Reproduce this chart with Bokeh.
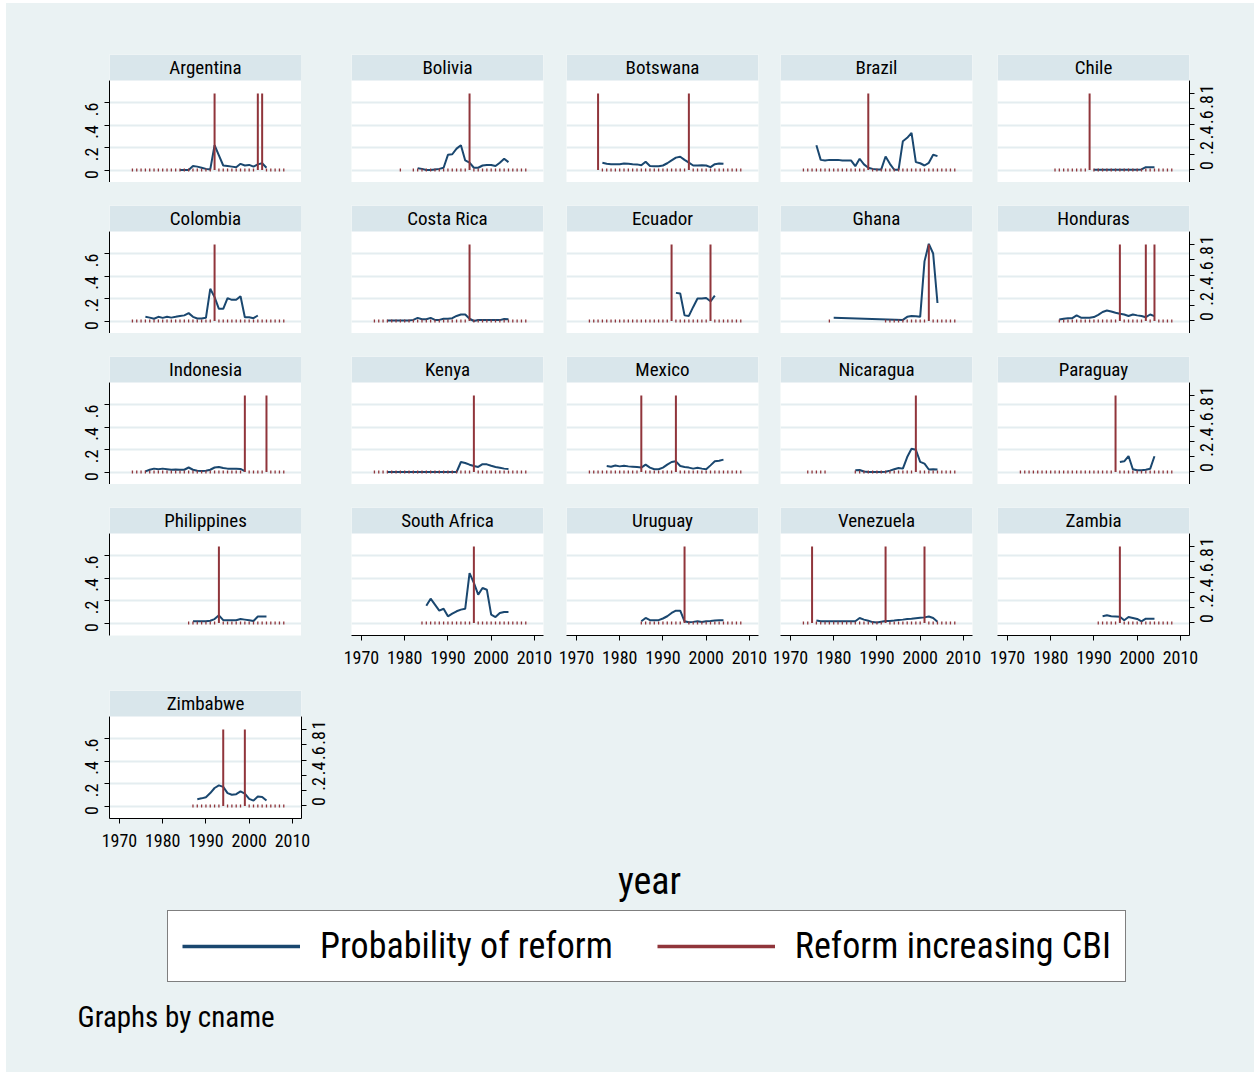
import math

from bokeh.embed import file_html
from bokeh.layouts import column, row
from bokeh.models import (BoxAnnotation, CustomJSTickFormatter, FixedTicker, Grid,
                          Label, Legend, LegendItem, LinearAxis, Range1d)
from bokeh.plotting import figure
from bokeh.resources import INLINE

# ---------------------------------------------------------------- data
countries = ["Argentina", "Bolivia", "Botswana", "Brazil", "Chile",
             "Colombia", "Costa Rica", "Ecuador", "Ghana", "Honduras",
             "Indonesia", "Kenya", "Mexico", "Nicaragua", "Paraguay",
             "Philippines", "South Africa", "Uruguay", "Venezuela", "Zambia",
             "Zimbabwe"]

# first year of the probability series
prob_start = {
    "Argentina": 1984, "Bolivia": 1983, "Botswana": 1976, "Brazil": 1976,
    "Chile": 1990, "Colombia": 1976, "Costa Rica": 1976, "Ecuador": 1993,
    "Ghana": 1980, "Honduras": 1982, "Indonesia": 1976, "Kenya": 1976,
    "Mexico": 1977, "Nicaragua": 1985, "Paraguay": 1996, "Philippines": 1987,
    "South Africa": 1985, "Uruguay": 1985, "Venezuela": 1976, "Zambia": 1992,
    "Zimbabwe": 1988,
}

# predicted probability of reform, one value per year (None = not observed)
prob_values = {
    "Argentina": [0, 0, 0, .035, .03, .02, .01, .005, .22, .13, .04, .035,
                  .03, .025, .055, .04, .045, .03, .05, .06, .02],
    "Bolivia": [.015, .01, 0, 0, .005, .01, .02, .135, .14, .19, .22, .085,
                .065, .02, .02, .04, .045, .045, .035, .065, .1, .07],
    "Botswana": [.064, .055, .052, .052, .052, .058, .055, .052, .05, .042,
                 .074, .036, .034, .034, .04, .06, .085, .11, .118, .09,
                 .065, .04, .04, .042, .04, .026, .052, .058, .055],
    "Brazil": [.22, .09, .085, .09, .09, .09, .085, .085, .085, .034,
               .1, .05, .02, .01, .005, .005, .12, .055, .002, .002,
               .256, .286, .33, .07, .06, .04, .064, .135, .123],
    "Chile": [.002, .002, .002, .002, .002, .002, .002, .002, .002, .002,
              .002, .005, .025, .025, .025],
    "Colombia": [.037, .03, .02, .037, .028, .037, .03, .037, .045, .05,
                 .07, .037, .022, .022, .028, .286, .212, .108, .108, .203,
                 .188, .188, .22, .034, .034, .025, .049],
    "Costa Rica": [.005, .005, .005, .005, .005, .005, .01, .028, .015, .015,
                   .028, .01, .01, .02, .02, .025, .045, .058, .058, .02,
                   0, .008, .008, .008, .008, .008, .008, .018, .015],
    "Ecuador": [.25, .245, .05, .045, .125, .2, .2, .205, .175, .225],
    "Ghana": [.028, None, None, None, None, None, None, None, None, None,
              None, None, None, None, None, None, .01, .037, .044, .042,
              .037, .53, .686, .6, .16],
    "Honduras": [.013, .02, .025, .025, .05, .03, .028, .028, .035, .055,
                 .08, .093, .085, .073, .065, .058, .045, .058, .05, .045,
                 .034, .058, .043],
    "Indonesia": [.006, .02, .03, .025, .03, .025, .02, .022, .02, .02,
                  .04, .02, .012, .01, .012, .02, .04, .045, .035, .03,
                  .028, .028, .027, .008],
    "Kenya": [0, 0, 0, 0, 0, 0, 0, 0, 0, 0, 0, 0, 0, 0, 0, 0, 0,
              .089, .08, .065, .053, .045, .07, .068, .055, .045, .038,
              .03, .027],
    "Mexico": [.053, .047, .058, .05, .055, .05, .047, .044, .039, .065,
               .039, .024, .024, .039, .065, .089, .095, .053, .044, .039,
               .03, .037, .03, .024, .059, .095, .1, .11],
    "Nicaragua": [.015, .018, .005, 0, 0, 0, 0, .002, .012, .024, .036,
                  .03, .133, .207, .198, .09, .074, .022, .024, .022],
    "Paraguay": [.089, .095, .142, .024, .015, .015, .02, .028, .14],
    "Philippines": [.015, .015, .015, .015, .02, .035, .068, .025, .025,
                    .025, .025, .035, .03, .025, .018, .058, .058, .058],
    "South Africa": [.154, .216, .163, .11, .127, .059, .083, .104, .119,
                     .127, .444, .356, .252, .311, .296, .074, .053, .089,
                     .098, .098],
    "Uruguay": [.015, .045, .025, .025, .025, .04, .06, .089, .11, .11,
                .015, .006, .01, .015, .008, .015, .018, .022, .024, .024],
    "Venezuela": [.022, .015, .015, .015, .015, .015, .015, .015, .015, .015,
                  .044, .03, .02, .008, .005, .012, .018, .018, .022, .027,
                  .03, .035, .037, .043, .047, .05, .058, .045, .012],
    "Zambia": [.06, .068, .06, .058, .055, .025, .053, .045, .036, .015,
               .038, .038, .038],
    "Zimbabwe": [.06, .068, .078, .115, .16, .183, .17, .114, .1, .105,
                 .13, .11, .063, .048, .084, .08, .048],
}

# years in which a reform increasing CBI took place
reform_years = {
    "Argentina": [1992, 2002, 2003], "Bolivia": [1995], "Botswana": [1975, 1996],
    "Brazil": [1988], "Chile": [1989], "Colombia": [1992], "Costa Rica": [1995],
    "Ecuador": [1992, 2001], "Ghana": [2002], "Honduras": [1996, 2002, 2004],
    "Indonesia": [1999, 2004], "Kenya": [1996], "Mexico": [1985, 1993],
    "Nicaragua": [1999], "Paraguay": [1995], "Philippines": [1993],
    "South Africa": [1996], "Uruguay": [1995], "Venezuela": [1975, 1992, 2001],
    "Zambia": [1996], "Zimbabwe": [1994, 1999],
}

# year spans in which the reform indicator is observed
reform_observed = {
    "Argentina": [(1973, 2008)], "Bolivia": [(1979, 1979), (1982, 2008)],
    "Botswana": [(1975, 2008)], "Brazil": [(1973, 2008)], "Chile": [(1981, 2008)],
    "Colombia": [(1973, 2008)], "Costa Rica": [(1973, 2008)],
    "Ecuador": [(1973, 2008)], "Ghana": [(1979, 1979), (1992, 2008)],
    "Honduras": [(1982, 2008)], "Indonesia": [(1973, 2008)],
    "Kenya": [(1973, 2008)], "Mexico": [(1973, 2008)],
    "Nicaragua": [(1974, 1978), (1985, 2008)], "Paraguay": [(1973, 2008)],
    "Philippines": [(1986, 2008)], "South Africa": [(1984, 2008)],
    "Uruguay": [(1985, 2008)], "Venezuela": [(1973, 2008)],
    "Zambia": [(1991, 2008)], "Zimbabwe": [(1987, 2008)],
}

year_ticks = [1970, 1980, 1990, 2000, 2010]
prob_ticks = [0, 0.2, 0.4, 0.6]
reform_ticks = [0, 0.2, 0.4, 0.6, 0.8, 1.0]
legend_labels = ["Probability of reform", "Reform increasing CBI"]

# ---------------------------------------------------------------- style
BG = "#EAF2F3"
STRIP = "#D9E6EB"
GRID = "#E4EDF0"
NAVY = "#1A476F"
MAROON = "#90353B"
FONT = "Roboto Condensed, Liberation Sans, sans-serif"
TICK_FONT_SIZE = "18px"

X0, X1 = 1967.7, 2012.1
FRAME_W, PLOT_H, STRIP_H = 192, 102, 26
Y_LO, Y_HI = -0.1111, 0.7956        # probability scale over the plot area
R_LO, R_HI = -0.1632, 1.1684        # reform scale over the plot area
Y_TOP = Y_HI + STRIP_H * (Y_HI - Y_LO) / PLOT_H
R_TOP = R_HI + STRIP_H * (R_HI - R_LO) / PLOT_H

COL_LEFT = [103, 50, 12, 11, 14]
COL_RIGHT = [0, 11, 11, 11, 65]
ROW_TOP = [51, 23, 23, 23, 0]
ROW_BOTTOM = [0, 0, 0, 55, 36]

short_fmt = CustomJSTickFormatter(code="""
const s = tick.toFixed(1);
if (s.endsWith(".0")) return s.slice(0, -2);
return s.startsWith("0") ? s.slice(1) : s;
""")


def style_axis(ax):
    ax.axis_line_color = "black"
    ax.axis_line_width = 1
    ax.major_tick_line_color = "black"
    ax.major_tick_out = 5
    ax.major_tick_in = 0
    ax.minor_tick_out = 0
    ax.minor_tick_in = 0
    ax.major_label_text_font = FONT
    ax.major_label_text_font_size = TICK_FONT_SIZE
    ax.major_label_text_color = "black"


def make_panel(name, r, c, left_axis, right_axis, bottom_axis, right_border):
    p = figure(frame_width=FRAME_W, frame_height=PLOT_H + STRIP_H,
               x_range=Range1d(X0, X1), y_range=Range1d(Y_LO, Y_TOP),
               x_axis_location=None, y_axis_location=None, title=None,
               toolbar_location=None, output_backend="svg",
               min_border_left=COL_LEFT[c], min_border_right=right_border,
               min_border_top=ROW_TOP[r], min_border_bottom=ROW_BOTTOM[r],
               background_fill_color="white", border_fill_color=BG,
               outline_line_color=None)
    p.extra_y_ranges = {"reform": Range1d(R_LO, R_TOP)}
    p.xgrid.visible = False
    p.ygrid.visible = False

    grid = Grid(dimension=1, ticker=FixedTicker(ticks=prob_ticks),
                grid_line_color=GRID, grid_line_width=2)
    p.add_layout(grid, "center")

    if left_axis:
        ax = LinearAxis(ticker=FixedTicker(ticks=prob_ticks), formatter=short_fmt,
                        bounds=(Y_LO, Y_HI), major_label_orientation=math.pi / 2,
                        major_label_standoff=13)
        style_axis(ax)
        p.add_layout(ax, "left")
    if right_axis:
        ax = LinearAxis(y_range_name="reform", ticker=FixedTicker(ticks=reform_ticks),
                        formatter=short_fmt, bounds=(R_LO, R_HI),
                        major_label_orientation=math.pi / 2, major_label_standoff=12)
        style_axis(ax)
        p.add_layout(ax, "right")
    if bottom_axis:
        ax = LinearAxis(ticker=FixedTicker(ticks=year_ticks), major_label_standoff=10)
        style_axis(ax)
        p.add_layout(ax, "below")

    # title band of the panel
    p.add_layout(BoxAnnotation(bottom=Y_HI, fill_color=STRIP, fill_alpha=1,
                               line_color=None))
    p.add_layout(Label(x=(X0 + X1) / 2, y=(Y_HI + Y_TOP) / 2, text=name,
                       text_align="center", text_baseline="middle",
                       text_font=FONT, text_font_size="19px", text_color="black"))

    # probability of reform
    start = prob_start[name]
    pts = [(start + i, v) for i, v in enumerate(prob_values[name]) if v is not None]
    p.line([x for x, _ in pts], [y for _, y in pts], line_color=NAVY, line_width=2)

    # reform indicator: spikes at reform years, zero marks elsewhere
    ref = reform_years[name]
    zeros = [y for a, b in reform_observed[name] for y in range(a, b + 1) if y not in ref]
    p.scatter(zeros, [0] * len(zeros), marker="dash", angle=math.pi / 2, size=3,
              line_color=MAROON, line_width=1.3, y_range_name="reform")
    p.segment(x0=ref, y0=[0] * len(ref), x1=ref, y1=[1] * len(ref),
              line_color=MAROON, line_width=2, y_range_name="reform")
    return p


rows = []
for r in range(5):
    figs = []
    for c in range(5):
        k = r * 5 + c
        if k >= len(countries):
            break
        name = countries[k]
        last_in_row = (c == 4) or (k == len(countries) - 1)
        bottom = (r == 3 and c > 0) or r == 4
        right_border = COL_RIGHT[c] if c > 0 else (40 if last_in_row else 0)
        figs.append(make_panel(name, r, c, left_axis=(c == 0), right_axis=last_in_row,
                               bottom_axis=bottom, right_border=right_border))
    rows.append(row(*figs))

# ---------------------------------------------------------------- footer
foot = figure(frame_width=1248, frame_height=218, x_range=Range1d(0, 1248),
              y_range=Range1d(0, 218), x_axis_location=None, y_axis_location=None,
              title=None, toolbar_location=None, output_backend="svg",
              min_border=0, background_fill_color=BG, border_fill_color=BG,
              outline_line_color=None)
foot.xgrid.visible = False
foot.ygrid.visible = False

foot.add_layout(Label(x=643, y=192, text="year", text_align="center",
                      text_baseline="middle", text_font=FONT, text_font_size="38px",
                      text_color="black"))
foot.add_layout(Label(x=71, y=56, text="Graphs by cname", text_align="left",
                      text_baseline="middle", text_font=FONT, text_font_size="29px",
                      text_color="black"))

# legend keys: renderers holding a single undefined point, so only the key shows
nan = float("nan")
key_prob = foot.line(x=[nan], y=[nan], line_color=NAVY, line_width=3.5)
key_ref = foot.line(x=[nan], y=[nan], line_color=MAROON, line_width=3.5)
legend = Legend(items=[LegendItem(label=legend_labels[0], renderers=[key_prob]),
                       LegendItem(label=legend_labels[1], renderers=[key_ref])],
                location=(161, 90), orientation="horizontal",
                glyph_width=118, glyph_height=40, label_standoff=20, spacing=44,
                padding=14, margin=0, label_text_font=FONT,
                label_text_font_size="36px", label_text_color="black",
                border_line_color="black", border_line_width=1.5,
                background_fill_color="white", background_fill_alpha=1)
foot.add_layout(legend)

layout = column(*rows, foot, styles={"background-color": BG}, margin=(3, 6, 2, 6))

open("out.html", "w").write(file_html(layout, INLINE))
